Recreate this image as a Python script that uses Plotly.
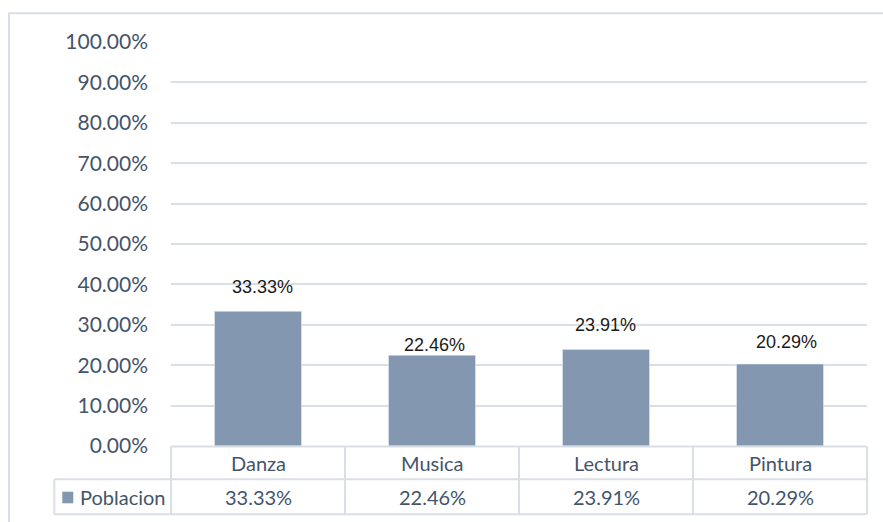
import plotly.graph_objects as go

categories = ["Danza", "Musica", "Lectura", "Pintura"]
values = [0.3333, 0.2246, 0.2391, 0.2029]
value_labels = ["33.33%", "22.46%", "23.91%", "20.29%"]
series_name = "Poblacion"
tick_vals = [0, 0.1, 0.2, 0.3, 0.4, 0.5, 0.6, 0.7, 0.8, 0.9, 1.0]

# label offsets above bars (px), as placed in the original
label_yshift = [24, 10, 24, 22]
label_xshift = [4, 2, -1, 6]

W, H = 883, 522
L, R, T, B = 171, 16, 42, 76
PW, PH = W - L - R, H - T - B

def px(x):
    return (x - L) / PW

def py(y):
    return (H - B - y) / PH

BAR = "#8497B0"
GRID = "#DADFE6"
TXT = "#44546A"
FONT = "Lato, Carlito, Calibri, sans-serif"

fig = go.Figure()
fig.add_trace(go.Bar(
    x=categories, y=values, marker_color=BAR, name=series_name,
    showlegend=False, hoverinfo="skip",
))

annotations = []
for i, (c, v, t) in enumerate(zip(categories, values, value_labels)):
    annotations.append(dict(
        x=c, y=v, xref="x", yref="y", text=t, showarrow=False,
        yanchor="middle", yshift=label_yshift[i], xshift=label_xshift[i],
        font=dict(family="Liberation Sans, Arial, sans-serif", size=18, color="#1a1a1a"),
    ))
    # table: category row
    annotations.append(dict(
        x=c, y=py(463.5), xref="x", yref="paper", text=c, showarrow=False,
        yanchor="middle", font=dict(family=FONT, size=20, color=TXT),
    ))
    # table: value row
    annotations.append(dict(
        x=c, y=py(497), xref="x", yref="paper", text=t, showarrow=False,
        yanchor="middle", font=dict(family=FONT, size=20, color=TXT),
    ))

annotations.append(dict(
    x=px(78), y=py(497), xref="paper", yref="paper", text=series_name,
    showarrow=False, xanchor="left", yanchor="middle",
    font=dict(family=FONT, size=20, color=TXT),
))

shapes = []
line = dict(color=GRID, width=2)
# outer chart border
shapes.append(dict(type="rect", xref="paper", yref="paper",
                   x0=px(9), x1=px(890), y0=py(530), y1=py(13.3),
                   line=dict(color=GRID, width=2), layer="below"))
# table horizontal lines
shapes.append(dict(type="line", xref="paper", yref="paper",
                   x0=px(171), x1=px(866.7), y0=py(446.5), y1=py(446.5), line=line))
for yy in (479.3, 514.3):
    shapes.append(dict(type="line", xref="paper", yref="paper",
                       x0=px(54.3), x1=px(866.7), y0=py(yy), y1=py(yy), line=line))
# table vertical lines
shapes.append(dict(type="line", xref="paper", yref="paper",
                   x0=px(54.3), x1=px(54.3), y0=py(479.3), y1=py(514.3), line=line))
n = len(categories)
for k in range(n + 1):
    xx = k / n
    shapes.append(dict(type="line", xref="paper", yref="paper",
                       x0=xx, x1=xx, y0=py(446.5), y1=py(514.3), line=line))
# legend key square
shapes.append(dict(type="rect", xref="paper", yref="paper",
                   x0=px(62.3), x1=px(73.3), y0=py(503.3), y1=py(491.7),
                   fillcolor=BAR, line=dict(width=0)))

fig.update_layout(
    width=W, height=H,
    margin=dict(l=L, r=R, t=T, b=B),
    paper_bgcolor="white", plot_bgcolor="white",
    bargap=0.5,
    showlegend=False,
    annotations=annotations,
    shapes=shapes,
    xaxis=dict(showticklabels=False, showgrid=False, zeroline=False,
               showline=False, ticks="", fixedrange=True),
    yaxis=dict(range=[0, 1.0], tickvals=tick_vals, tickformat=".2%",
               showgrid=True, gridcolor=GRID, gridwidth=2, zeroline=False,
               showline=False, ticks="", ticklabelstandoff=22,
               tickfont=dict(family=FONT, size=21, color=TXT), fixedrange=True),
)

fig.write_html(
    "out.html",
    config={"displayModeBar": False},
    post_script="document.body.style.margin='0';document.body.style.overflow='hidden';",
)
